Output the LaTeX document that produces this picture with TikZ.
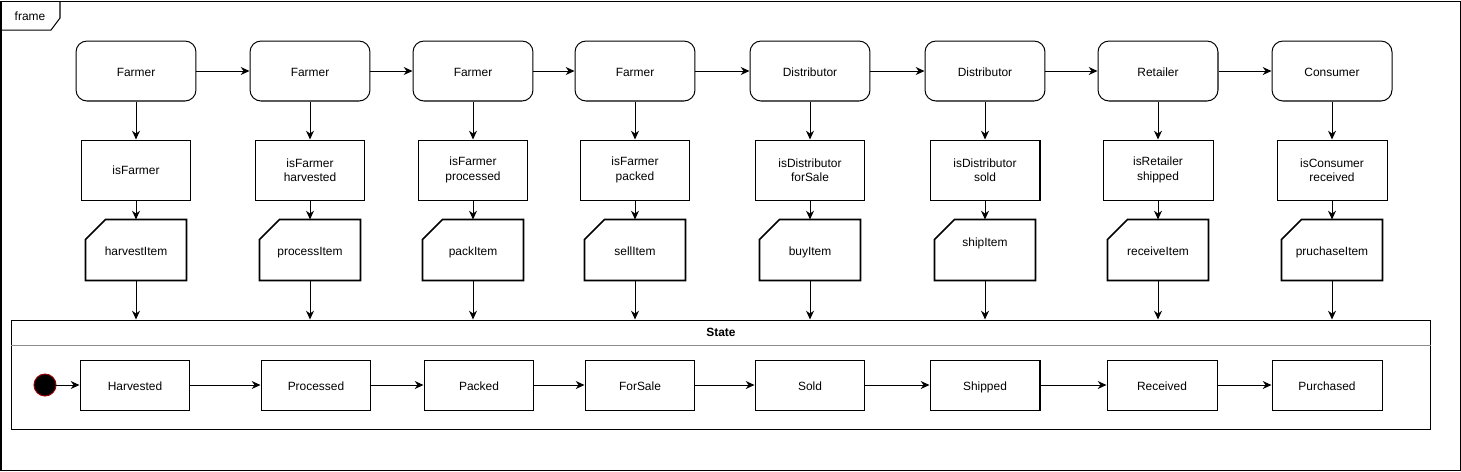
\documentclass[tikz,border=0pt]{standalone}
\usepackage{fontspec}
\setmainfont{Liberation Sans}
\usetikzlibrary{arrows.meta}
\begin{document}
\begin{tikzpicture}[x=0.02cm, y=-0.02cm, line width=0.57pt, >={Stealth[length=5pt,width=4.5pt]},
  every node/.style={font=\fontsize{6.8}{8.2}\selectfont},
  actor/.style={draw,rounded corners=0.22cm,minimum width=2.4cm,minimum height=1.2cm,text height=1.5ex,text depth=.3ex},
  guard/.style={draw,minimum width=2.2cm,minimum height=1.2cm,align=center},
  action/.style={minimum width=2cm,minimum height=1.2cm,text height=1.5ex,text depth=.3ex},
  stbox/.style={draw,minimum width=2.2cm,minimum height=1cm,text height=1.5ex,text depth=.3ex}]
\useasboundingbox (0,0) rectangle (1461,471);
% frame
\draw (1,1) rectangle (1460,470);
\draw (1,30) -- (51,30) -- (60,18) -- (60,1);
\node (frm) at (30,16) {frame};
% actors
\node[actor] (a1) at (136,71) {Farmer}; \node[actor] (a2) at (310,71) {Farmer};
\node[actor] (a3) at (473,71) {Farmer}; \node[actor] (a4) at (635,71) {Farmer};
\node[actor] (a5) at (810,71) {Distributor}; \node[actor] (a6) at (985,71) {Distributor};
\node[actor] (a7) at (1158,71) {Retailer}; \node[actor] (a8) at (1332,71) {Consumer};
\draw[->] (a1)--(a2); \draw[->] (a2)--(a3); \draw[->] (a3)--(a4); \draw[->] (a4)--(a5);
\draw[->] (a5)--(a6); \draw[->] (a6)--(a7); \draw[->] (a7)--(a8);
% guards
\node[guard] (g1) at (136,170) {isFarmer}; \node[guard] (g2) at (310,170) {isFarmer\\harvested};
\node[guard] (g3) at (473,170) {isFarmer\\processed}; \node[guard] (g4) at (635,170) {isFarmer\\packed};
\node[guard] (g5) at (810,170) {isDistributor\\forSale}; \node[guard] (g6) at (985,170) {isDistributor\\sold};
\node[guard] (g7) at (1158,170) {isRetailer\\shipped}; \node[guard] (g8) at (1332,170) {isConsumer\\received};
% actions
\node[action] (c1) at (136,250) {harvestItem}; \node[action] (c2) at (310,250) {processItem};
\node[action] (c3) at (473,250) {packItem}; \node[action] (c4) at (635,250) {sellItem};
\node[action] (c5) at (810,250) {buyItem}; \node[action] (c6) at (985,250) {\raisebox{5pt}{shipItem}};
\node[action] (c7) at (1158,250) {receiveItem}; \node[action] (c8) at (1332,250) {pruchaseItem};
\foreach \c in {c1,c2,c3,c4,c5,c6,c7,c8}
  \draw[line width=0.9pt] ([xshift=0.4cm]\c.north west) -- (\c.north east) -- (\c.south east)
    -- (\c.south west) -- ([yshift=-0.4cm]\c.north west) -- cycle;
% state machine
\node[draw,minimum width=28.4cm,minimum height=2.2cm] (state) at (721,375) {};
\node[font=\fontsize{6.8}{8.2}\selectfont\bfseries] (sttl) at (721,332) {State};
\coordinate (hl) at (11,345); \coordinate (hr) at (1431,345);
\draw[black!45] (hl) -- (hr);
\draw[->] (a1)--(g1); \draw[->] (g1)--(c1); \draw[->] (c1)--(c1 |- state.north);
\draw[->] (a2)--(g2); \draw[->] (g2)--(c2); \draw[->] (c2)--(c2 |- state.north);
\draw[->] (a3)--(g3); \draw[->] (g3)--(c3); \draw[->] (c3)--(c3 |- state.north);
\draw[->] (a4)--(g4); \draw[->] (g4)--(c4); \draw[->] (c4)--(c4 |- state.north);
\draw[->] (a5)--(g5); \draw[->] (g5)--(c5); \draw[->] (c5)--(c5 |- state.north);
\draw[->] (a6)--(g6); \draw[->] (g6)--(c6); \draw[->] (c6)--(c6 |- state.north);
\draw[->] (a7)--(g7); \draw[->] (g7)--(c7); \draw[->] (c7)--(c7 |- state.north);
\draw[->] (a8)--(g8); \draw[->] (g8)--(c8); \draw[->] (c8)--(c8 |- state.north);
\node[circle,fill=black,draw=red!60!black,minimum size=0.44cm,inner sep=0pt] (init) at (45,385) {};
\node[stbox] (s1) at (135,385) {Harvested}; \node[stbox] (s2) at (316,385) {Processed};
\node[stbox] (s3) at (479,385) {Packed}; \node[stbox] (s4) at (640,385) {ForSale};
\node[stbox] (s5) at (810,385) {Sold}; \node[stbox] (s6) at (985,385) {Shipped};
\node[stbox] (s7) at (1162,385) {Received}; \node[stbox] (s8) at (1327,385) {Purchased};
\draw[->] (init)--(s1); \draw[->] (s1)--(s2); \draw[->] (s2)--(s3); \draw[->] (s3)--(s4);
\draw[->] (s4)--(s5); \draw[->] (s5)--(s6); \draw[->] (s6)--(s7); \draw[->] (s7)--(s8);
\end{tikzpicture}
\end{document}
